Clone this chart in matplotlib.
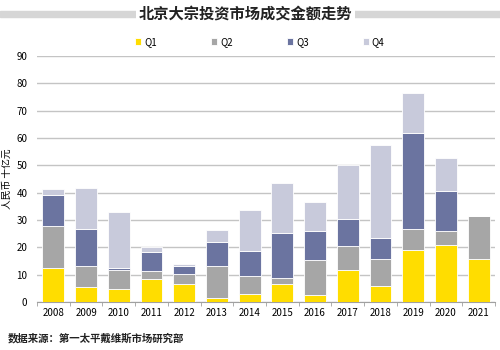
import numpy as np
import matplotlib
matplotlib.use("Agg")
import matplotlib.pyplot as plt
from matplotlib.patches import Rectangle

plt.rcParams['font.family'] = ['Noto Sans CJK SC', 'DejaVu Sans']

years = ['2008', '2009', '2010', '2011', '2012', '2013', '2014',
         '2015', '2016', '2017', '2018', '2019', '2020', '2021']
q1 = [12.5, 5.4, 4.8, 8.4, 6.5, 1.5, 2.8, 6.7, 2.6, 11.7, 5.9, 18.9, 21.0, 15.6]
q2 = [15.4, 7.9, 6.8, 3.0, 3.6, 11.6, 6.6, 2.0, 12.9, 8.7, 10.0, 7.8, 4.9, 15.8]
q3 = [11.3, 13.5, 0.7, 6.9, 3.2, 9.0, 9.3, 16.6, 10.4, 9.8, 7.4, 35.0, 14.8, 0]
q4 = [2.2, 15.1, 20.7, 1.7, 0.8, 4.2, 14.8, 18.1, 10.8, 19.9, 34.3, 14.7, 11.9, 0]
series = {'Q1': q1, 'Q2': q2, 'Q3': q3, 'Q4': q4}
colors = {'Q1': '#FFDD00', 'Q2': '#A6A6A6', 'Q3': '#6B74A0', 'Q4': '#C8CADB'}

fig = plt.figure(figsize=(5, 3.5), dpi=100)
ax = fig.add_axes([0.074, 0.137, 0.916, 0.703])

x = np.arange(len(years))
bottom = np.zeros(len(years))
for name, vals in series.items():
    vals = np.array(vals)
    ax.bar(x, vals, 0.67, bottom=bottom, color=colors[name], label=name,
           edgecolor='white', linewidth=0.6, zorder=3)
    bottom += vals

ax.set_ylim(0, 90)
ax.set_xlim(-0.5, len(years) - 0.5)
ax.set_yticks(range(0, 91, 10))
ax.yaxis.grid(True, color='#C4C4C4', linewidth=1.0, zorder=0)
for s in ['top', 'right', 'left']:
    ax.spines[s].set_visible(False)
ax.spines['bottom'].set_color('#A0A0A0')
ax.tick_params(axis='y', length=0, labelsize=7, pad=7)
ax.set_xticks(x)
ax.set_xticklabels(years)
ax.tick_params(axis='x', which='major', length=0, labelsize=7, pad=4)
ax.set_xticks(np.arange(-0.5, len(years), 1), minor=True)
ax.tick_params(axis='x', which='minor', length=3, color='#A0A0A0')
ax.set_ylabel('人民币 十亿元', fontsize=7, labelpad=3)

# title band
fig.add_artist(Rectangle((0, 0.951), 1, 0.018, transform=fig.transFigure,
                         color='#D6D6D6', zorder=0))
fig.text(0.49, 0.96, '北京大宗投资市场成交金额走势', ha='center', va='center',
         fontsize=11, fontweight='bold', color='#222222',
         bbox=dict(facecolor='white', edgecolor='none', pad=2))

fig.legend(loc='center', bbox_to_anchor=(0.52, 0.88), ncol=4, frameon=False,
           fontsize=7, handlelength=0.6, handleheight=0.6, handletextpad=0.3,
           columnspacing=5.6)

fig.text(0.016, 0.025, '数据来源：第一太平戴维斯市场研究部', fontsize=7.5,
         fontweight='bold', color='#222222')

fig.savefig('out.png', dpi=100)
